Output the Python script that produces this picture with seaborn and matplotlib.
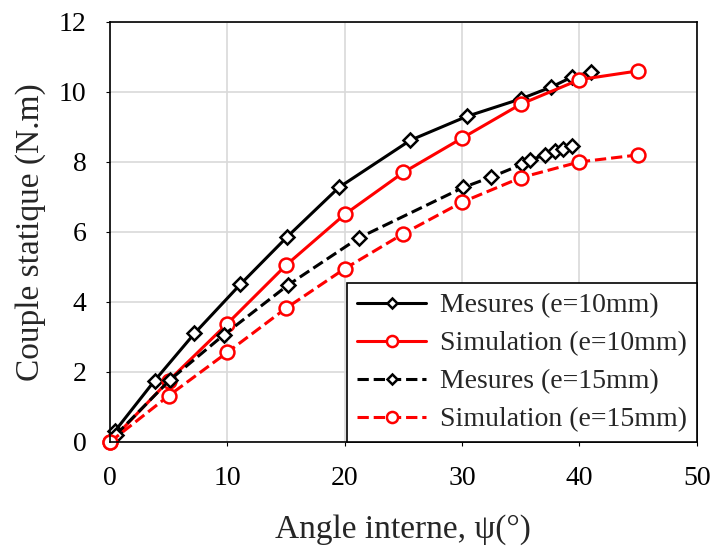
import matplotlib
matplotlib.use('Agg')
import matplotlib.pyplot as plt
import seaborn as sns

# Mesures (e=10mm)
mes10_x = [0.4, 3.8, 7.2, 11.1, 15.1, 19.5, 25.6, 30.4, 35.0, 37.6, 39.4, 41.0]
mes10_y = [0.3, 1.75, 3.1, 4.5, 5.86, 7.27, 8.62, 9.3, 9.8, 10.14, 10.43, 10.57]

# Simulation (e=10mm)
sim10_x = [0, 5, 10, 15, 20, 25, 30, 35, 40, 45]
sim10_y = [0.0, 1.75, 3.38, 5.05, 6.5, 7.7, 8.68, 9.65, 10.35, 10.6]

# Mesures (e=15mm)
mes15_x = [0.5, 5.1, 9.7, 15.2, 21.2, 30.1, 32.5, 35.1, 35.8, 37.1, 37.9, 38.6, 39.4]
mes15_y = [0.2, 1.77, 3.06, 4.49, 5.83, 7.27, 7.57, 7.93, 8.06, 8.2, 8.3, 8.38, 8.45]

# Simulation (e=15mm)
sim15_x = [0, 5, 10, 15, 20, 25, 30, 35, 40, 45]
sim15_y = [0.0, 1.32, 2.56, 3.82, 4.95, 5.95, 6.85, 7.55, 8.0, 8.2]

sns.set_style('white')
plt.rcParams['font.family'] = ['Liberation Serif', 'DejaVu Serif']

fig = plt.figure(figsize=(7.14, 5.47), dpi=100)
ax = fig.add_axes([0.154, 0.192, 0.822, 0.768])

series = [
    (mes10_x, mes10_y, 'black', 'D', '-', 7, 'Mesures (e=10mm)'),
    (sim10_x, sim10_y, 'red', 'o', '-', 10, 'Simulation (e=10mm)'),
    (mes15_x, mes15_y, 'black', 'D', '--', 7, 'Mesures (e=15mm)'),
    (sim15_x, sim15_y, 'red', 'o', '--', 10, 'Simulation (e=15mm)'),
]
for xs, ys, col, mk, ls, ms, lab in series:
    sns.lineplot(x=xs, y=ys, ax=ax, color=col, marker=mk, linestyle=ls,
                 markersize=ms, markerfacecolor='white', markeredgecolor=col,
                 markeredgewidth=1.8, linewidth=2.2, sort=False,
                 estimator=None, errorbar=None, label=lab, clip_on=False)

ax.set_xlim(0, 50)
ax.set_ylim(0, 12)
ax.set_xticks(range(0, 51, 10))
ax.set_yticks(range(0, 13, 2))
ax.grid(True, color='#d9d9d9', linewidth=1.2)
ax.set_axisbelow(True)
for sp in ax.spines.values():
    sp.set_color('black')
    sp.set_linewidth(1.2)
ax.tick_params(axis='both', labelsize=20, colors='black', length=3,
               direction='out', left=True, bottom=True)
ax.tick_params(axis='x', pad=14)
ax.tick_params(axis='y', pad=14)
ax.set_xlabel('Angle interne, ψ(°)', fontsize=24, labelpad=17)
ax.set_ylabel('Couple statique (N.m)', fontsize=24, labelpad=9)

leg = ax.legend(loc='lower right', fontsize=20, frameon=True, fancybox=False,
                edgecolor='black', framealpha=1, borderaxespad=0,
                handlelength=2.5, handletextpad=0.5, labelspacing=0.45,
                borderpad=0.35, markerscale=0.8)
leg.get_frame().set_linewidth(1.2)

fig.savefig('out.png', dpi=100)
